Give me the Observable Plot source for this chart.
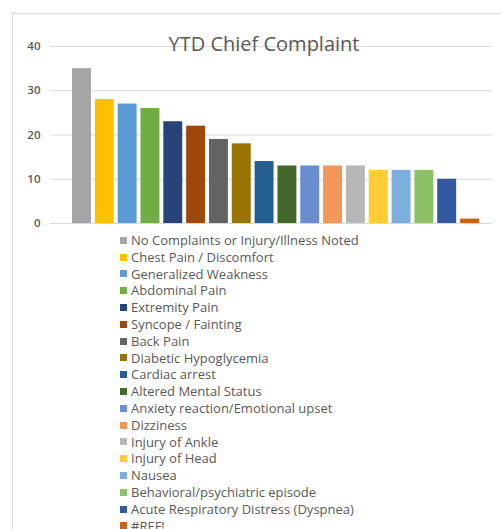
<!DOCTYPE html>
<html>
<head>
<meta charset="utf-8">
<script src="https://cdn.jsdelivr.net/npm/d3@7"></script>
<script src="https://cdn.jsdelivr.net/npm/@observablehq/plot@0.6"></script>
<style>
  html, body { margin: 0; padding: 0; background: #fff; }
  body { width: 501px; height: 529px; overflow: hidden; position: relative; font-family: "Open Sans", "Liberation Sans", sans-serif; }
  #frame { position: absolute; left: 12px; top: 13px; width: 600px; height: 600px; border: 1px solid #d9d9d9; box-sizing: border-box; }
  #chart { position: absolute; left: 0; top: 0; }
  #title { position: absolute; left: 0; width: 528px; top: 30px; text-align: center; font-size: 20px; color: #595959; }
  #legend { position: absolute; left: 120px; top: 232px; font-size: 13px; color: #595959; }
  .row { height: 16.8px; line-height: 16.8px; white-space: nowrap; display: flex; align-items: center; }
  .sw { width: 7px; height: 7px; margin-right: 4px; display: inline-block; }
</style>
</head>
<body>
<div id="frame"></div>
<div id="chart"></div>
<div id="title">YTD Chief Complaint</div>
<div id="legend"></div>
<script>
const categories = [
  "No Complaints or Injury/Illness Noted",
  "Chest Pain / Discomfort",
  "Generalized Weakness",
  "Abdominal Pain",
  "Extremity Pain",
  "Syncope / Fainting",
  "Back Pain",
  "Diabetic Hypoglycemia",
  "Cardiac arrest",
  "Altered Mental Status",
  "Anxiety reaction/Emotional upset",
  "Dizziness",
  "Injury of Ankle",
  "Injury of Head",
  "Nausea",
  "Behavioral/psychiatric episode",
  "Acute Respiratory Distress (Dyspnea)",
  "#REF!"
];
const values = [35, 28, 27, 26, 23, 22, 19, 18, 14, 13, 13, 13, 13, 12, 12, 12, 10, 1];
const colors = ["#A5A5A5", "#FFC000", "#5B9BD5", "#70AD47", "#264478", "#9E480E", "#636363", "#997300", "#255E91", "#43682B", "#698ED0", "#F1975A", "#B7B7B7", "#FFCD33", "#7CAFDD", "#8CC168", "#335AA1", "#D26012"];
const yTicks = [0, 10, 20, 30, 40];

const data = categories.map((c, i) => ({category: c, value: values[i]}));

const chart = Plot.plot({
  width: 501,
  height: 232,
  marginTop: 46,
  marginBottom: 9,
  marginLeft: 50,
  marginRight: 9,
  style: {background: "transparent", fontFamily: "Open Sans, sans-serif", fontSize: "11px", color: "#595959"},
  x: {domain: categories, axis: null, range: [72, 479], paddingInner: 0.17, paddingOuter: 0, round: false},
  y: {domain: [0, 40], ticks: yTicks, label: null, grid: false},
  color: {domain: categories, range: colors},
  marks: [
    Plot.ruleY(yTicks, {stroke: "#d9d9d9", strokeWidth: 1}),
    Plot.barY(data, {x: "category", y: "value", fill: "category"}),
    Plot.axisY({ticks: yTicks, tickSize: 0, tickPadding: 10, label: null, fill: "#595959", fontSize: 11.5, fontWeight: 600})
  ]
});
document.getElementById("chart").appendChild(chart);

const legend = d3.select("#legend");
categories.forEach((c, i) => {
  const row = legend.append("div").attr("class", "row");
  row.append("span").attr("class", "sw").style("background", colors[i]);
  row.append("span").text(c);
});
</script>
</body>
</html>
